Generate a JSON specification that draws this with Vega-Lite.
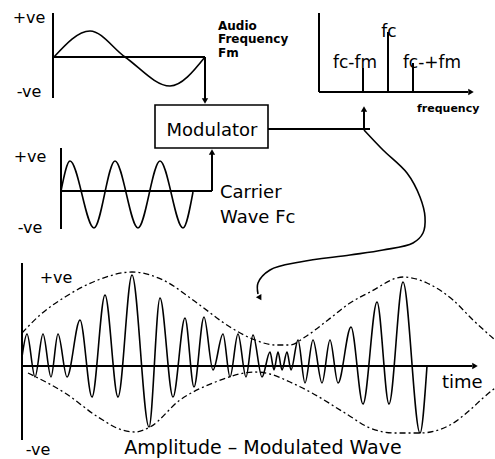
{
  "$schema": "https://vega.github.io/schema/vega-lite/v6.json",
  "width": 495,
  "height": 459,
  "padding": 0,
  "autosize": {"type": "none"},
  "background": "white",
  "config": {"view": {"stroke": null}},
  "datasets": {
    "env": [
      {"g": "upper", "x": 22, "y": 333}, {"g": "upper", "x": 40, "y": 315}, {"g": "upper", "x": 65, "y": 297}, {"g": "upper", "x": 98, "y": 280}, {"g": "upper", "x": 132, "y": 272}, {"g": "upper", "x": 163, "y": 280}, {"g": "upper", "x": 197, "y": 303}, {"g": "upper", "x": 230, "y": 327}, {"g": "upper", "x": 255, "y": 340}, {"g": "upper", "x": 275, "y": 345}, {"g": "upper", "x": 290, "y": 345}, {"g": "upper", "x": 305, "y": 337}, {"g": "upper", "x": 328, "y": 320}, {"g": "upper", "x": 350, "y": 303}, {"g": "upper", "x": 370, "y": 292}, {"g": "upper", "x": 403, "y": 277}, {"g": "upper", "x": 427, "y": 283}, {"g": "upper", "x": 453, "y": 300}, {"g": "upper", "x": 473, "y": 320}, {"g": "upper", "x": 495, "y": 340},
      {"g": "lower", "x": 28, "y": 373}, {"g": "lower", "x": 65, "y": 393}, {"g": "lower", "x": 98, "y": 417}, {"g": "lower", "x": 122, "y": 430}, {"g": "lower", "x": 135, "y": 432}, {"g": "lower", "x": 150, "y": 427}, {"g": "lower", "x": 180, "y": 400}, {"g": "lower", "x": 213, "y": 383}, {"g": "lower", "x": 255, "y": 372}, {"g": "lower", "x": 270, "y": 374}, {"g": "lower", "x": 290, "y": 382}, {"g": "lower", "x": 312, "y": 393}, {"g": "lower", "x": 345, "y": 413}, {"g": "lower", "x": 370, "y": 428}, {"g": "lower", "x": 395, "y": 433}, {"g": "lower", "x": 420, "y": 433}, {"g": "lower", "x": 450, "y": 425}, {"g": "lower", "x": 470, "y": 410}, {"g": "lower", "x": 483, "y": 398}, {"g": "lower", "x": 495, "y": 388}
    ],
    "waves": [
      {"g": "audio", "x": 54, "y": 57}, {"g": "audio", "x": 90, "y": 31}, {"g": "audio", "x": 125, "y": 57}, {"g": "audio", "x": 170, "y": 86}, {"g": "audio", "x": 205, "y": 57},
      {"g": "carrier", "x": 61, "y": 191}, {"g": "carrier", "x": 70, "y": 161}, {"g": "carrier", "x": 94, "y": 228}, {"g": "carrier", "x": 115, "y": 161}, {"g": "carrier", "x": 138, "y": 228}, {"g": "carrier", "x": 160, "y": 161}, {"g": "carrier", "x": 183, "y": 228}, {"g": "carrier", "x": 193, "y": 192},
      {"g": "am", "x": 22, "y": 357}, {"g": "am", "x": 27, "y": 334}, {"g": "am", "x": 35, "y": 377}, {"g": "am", "x": 43, "y": 334}, {"g": "am", "x": 51, "y": 377}, {"g": "am", "x": 58, "y": 334}, {"g": "am", "x": 67, "y": 377}, {"g": "am", "x": 80, "y": 320}, {"g": "am", "x": 92, "y": 397}, {"g": "am", "x": 105, "y": 295}, {"g": "am", "x": 118, "y": 397}, {"g": "am", "x": 132, "y": 275}, {"g": "am", "x": 149, "y": 427}, {"g": "am", "x": 160, "y": 298}, {"g": "am", "x": 173, "y": 397}, {"g": "am", "x": 185, "y": 318}, {"g": "am", "x": 194, "y": 387}, {"g": "am", "x": 204, "y": 317}, {"g": "am", "x": 213, "y": 370}, {"g": "am", "x": 223, "y": 334}, {"g": "am", "x": 230, "y": 377}, {"g": "am", "x": 238, "y": 334}, {"g": "am", "x": 246, "y": 377}, {"g": "am", "x": 253, "y": 335}, {"g": "am", "x": 262, "y": 377}, {"g": "am", "x": 270, "y": 352}, {"g": "am", "x": 274, "y": 370}, {"g": "am", "x": 278, "y": 352}, {"g": "am", "x": 282, "y": 370}, {"g": "am", "x": 287, "y": 352}, {"g": "am", "x": 291, "y": 370}, {"g": "am", "x": 298, "y": 340}, {"g": "am", "x": 305, "y": 383}, {"g": "am", "x": 313, "y": 340}, {"g": "am", "x": 322, "y": 383}, {"g": "am", "x": 330, "y": 340}, {"g": "am", "x": 338, "y": 383}, {"g": "am", "x": 351, "y": 327}, {"g": "am", "x": 363, "y": 404}, {"g": "am", "x": 377, "y": 302}, {"g": "am", "x": 389, "y": 404}, {"g": "am", "x": 403, "y": 282}, {"g": "am", "x": 420, "y": 433}, {"g": "am", "x": 427, "y": 366}
    ],
    "curve": [
      {"i": 0, "x": 364, "y": 130}, {"i": 1, "x": 383, "y": 150}, {"i": 2, "x": 407, "y": 173}, {"i": 3, "x": 420, "y": 197}, {"i": 4, "x": 425, "y": 217}, {"i": 5, "x": 423, "y": 233}, {"i": 6, "x": 413, "y": 243}, {"i": 7, "x": 383, "y": 250}, {"i": 8, "x": 350, "y": 255}, {"i": 9, "x": 300, "y": 262}, {"i": 10, "x": 270, "y": 270}, {"i": 11, "x": 258, "y": 283}, {"i": 12, "x": 258, "y": 294}
    ],
    "segs": [
      {"x": 53, "y": 13, "x2": 53, "y2": 98},
      {"x": 53, "y": 57, "x2": 205, "y2": 57},
      {"x": 205, "y": 57, "x2": 205, "y2": 100},
      {"x": 61, "y": 148, "x2": 61, "y2": 229},
      {"x": 61, "y": 191, "x2": 212, "y2": 191},
      {"x": 212, "y": 191, "x2": 212, "y2": 153},
      {"x": 268, "y": 129, "x2": 370, "y2": 129},
      {"x": 364, "y": 129, "x2": 364, "y2": 110},
      {"x": 319, "y": 13, "x2": 319, "y2": 92},
      {"x": 319, "y": 92, "x2": 468, "y2": 92},
      {"x": 363, "y": 92, "x2": 363, "y2": 68},
      {"x": 388, "y": 92, "x2": 388, "y2": 32},
      {"x": 413, "y": 92, "x2": 413, "y2": 63},
      {"x": 22, "y": 263, "x2": 22, "y2": 440},
      {"x": 22, "y": 366, "x2": 472, "y2": 366}
    ],
    "box": [{"x": 155, "y": 105, "x2": 268, "y2": 148}],
    "heads": [
      {"dir": "down", "x": 205, "y": 101},
      {"dir": "up", "x": 212, "y": 152},
      {"dir": "up", "x": 364, "y": 109},
      {"dir": "right", "x": 471, "y": 92},
      {"dir": "right", "x": 475, "y": 366}
    ],
    "curvehead": [{"x": 260, "y": 298}],
    "labels": [
      {"t": "+ve", "k": "ve", "x": 29, "y": 23},
      {"t": "-ve", "k": "ve", "x": 29, "y": 97},
      {"t": "Modulator", "k": "name", "x": 212, "y": 136},
      {"t": "+ve", "k": "ve", "x": 30, "y": 162},
      {"t": "-ve", "k": "ve", "x": 30, "y": 233},
      {"t": "fc", "k": "spec", "x": 389, "y": 37},
      {"t": "fc-fm", "k": "spec", "x": 355, "y": 68},
      {"t": "fc-+fm", "k": "spec", "x": 432, "y": 68},
      {"t": "+ve", "k": "ve", "x": 56, "y": 283},
      {"t": "-ve", "k": "ve", "x": 38, "y": 455},
      {"t": "Amplitude – Modulated Wave", "k": "title", "x": 263, "y": 454}
    ],
    "leftlabels": [
      {"t": "Carrier", "x": 220, "y": 198},
      {"t": "Wave Fc", "x": 220, "y": 223},
      {"t": "time", "x": 442, "y": 388}
    ],
    "boldlabels": [
      {"t": "Audio", "k": "cap", "x": 218, "y": 30},
      {"t": "Frequency", "k": "cap", "x": 218, "y": 43},
      {"t": "Fm", "k": "cap", "x": 218, "y": 57},
      {"t": "frequency", "k": "axis", "x": 417, "y": 112}
    ]
  },
  "encoding": {
    "x": {"field": "x", "type": "quantitative", "scale": {"domain": [0, 495], "nice": false, "zero": false}, "axis": null},
    "y": {"field": "y", "type": "quantitative", "scale": {"domain": [0, 459], "reverse": true, "nice": false, "zero": false}, "axis": null}
  },
  "layer": [
    {
      "data": {"name": "env"},
      "mark": {"type": "line", "interpolate": "monotone", "color": "black", "strokeWidth": 1.3, "strokeDash": [6, 3, 2, 3]},
      "encoding": {"detail": {"field": "g"}}
    },
    {
      "data": {"name": "waves"},
      "mark": {"type": "line", "interpolate": "monotone", "color": "black", "strokeWidth": 1.6},
      "encoding": {"detail": {"field": "g"}}
    },
    {
      "data": {"name": "curve"},
      "mark": {"type": "line", "interpolate": "catmull-rom", "color": "black", "strokeWidth": 1.6},
      "encoding": {"order": {"field": "i", "type": "quantitative"}}
    },
    {
      "data": {"name": "segs"},
      "mark": {"type": "rule", "color": "black", "strokeWidth": 2},
      "encoding": {"x2": {"field": "x2"}, "y2": {"field": "y2"}}
    },
    {
      "data": {"name": "box"},
      "mark": {"type": "rect", "fill": "white", "stroke": "black", "strokeWidth": 1.6},
      "encoding": {"x2": {"field": "x2"}, "y2": {"field": "y2"}}
    },
    {
      "data": {"name": "heads"},
      "mark": {"type": "point", "filled": true, "color": "black", "opacity": 1, "size": 40},
      "encoding": {"shape": {"field": "dir", "type": "nominal", "scale": {"domain": ["down", "up", "right"], "range": ["triangle-down", "triangle-up", "triangle-right"]}, "legend": null}}
    },
    {
      "data": {"name": "curvehead"},
      "mark": {"type": "point", "shape": "triangle-down", "angle": -30, "filled": true, "color": "black", "opacity": 1, "size": 40}
    },
    {
      "data": {"name": "labels"},
      "transform": [{"filter": "datum.k === 've'"}],
      "mark": {"type": "text", "font": "DejaVu Sans", "fontSize": 16, "align": "center", "baseline": "alphabetic", "color": "black"},
      "encoding": {"text": {"field": "t"}}
    },
    {
      "data": {"name": "labels"},
      "transform": [{"filter": "datum.k === 'name'"}],
      "mark": {"type": "text", "font": "DejaVu Sans", "fontSize": 18, "align": "center", "baseline": "alphabetic", "color": "black"},
      "encoding": {"text": {"field": "t"}}
    },
    {
      "data": {"name": "labels"},
      "transform": [{"filter": "datum.k === 'spec'"}],
      "mark": {"type": "text", "font": "DejaVu Sans", "fontSize": 17, "align": "center", "baseline": "alphabetic", "color": "black"},
      "encoding": {"text": {"field": "t"}}
    },
    {
      "data": {"name": "labels"},
      "transform": [{"filter": "datum.k === 'title'"}],
      "mark": {"type": "text", "font": "DejaVu Sans", "fontSize": 19, "align": "center", "baseline": "alphabetic", "color": "black"},
      "encoding": {"text": {"field": "t"}}
    },
    {
      "data": {"name": "leftlabels"},
      "mark": {"type": "text", "font": "DejaVu Sans", "fontSize": 18, "align": "left", "baseline": "alphabetic", "color": "black"},
      "encoding": {"text": {"field": "t"}}
    },
    {
      "data": {"name": "boldlabels"},
      "transform": [{"filter": "datum.k === 'cap'"}],
      "mark": {"type": "text", "font": "DejaVu Sans", "fontWeight": "bold", "fontSize": 12, "align": "left", "baseline": "alphabetic", "color": "black"},
      "encoding": {"text": {"field": "t"}}
    },
    {
      "data": {"name": "boldlabels"},
      "transform": [{"filter": "datum.k === 'axis'"}],
      "mark": {"type": "text", "font": "DejaVu Sans", "fontWeight": "bold", "fontSize": 11, "align": "left", "baseline": "alphabetic", "color": "black"},
      "encoding": {"text": {"field": "t"}}
    }
  ]
}
